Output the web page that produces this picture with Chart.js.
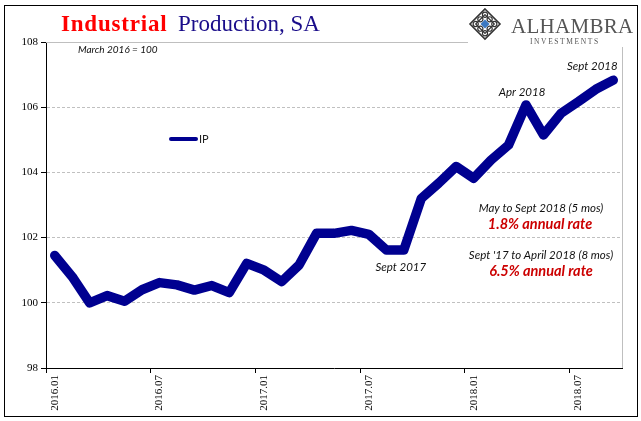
<!DOCTYPE html>
<html>
<head>
<meta charset="utf-8">
<script src="https://cdn.jsdelivr.net/npm/chart.js@4/dist/chart.umd.min.js"></script>
<style>
    html, body { margin: 0; padding: 0; background: #fff; }
    #wrap { position: relative; width: 641px; height: 421px; overflow: hidden; }
    #frame { position: absolute; left: 4px; top: 5px; width: 634px; height: 412px;
             border: 1px solid #000; box-sizing: border-box; pointer-events: none; }
    #c { position: absolute; left: 0; top: 0; }
</style>
</head>
<body>
<div id="wrap">
    <canvas id="c" width="641" height="421"></canvas>
    <div id="frame"></div>
</div>
<script>
// Industrial Production, SA (March 2016 = 100), monthly
const months = [
    '2016.01', '2016.02', '2016.03', '2016.04', '2016.05', '2016.06',
    '2016.07', '2016.08', '2016.09', '2016.10', '2016.11', '2016.12',
    '2017.01', '2017.02', '2017.03', '2017.04', '2017.05', '2017.06',
    '2017.07', '2017.08', '2017.09', '2017.10', '2017.11', '2017.12',
    '2018.01', '2018.02', '2018.03', '2018.04', '2018.05', '2018.06',
    '2018.07', '2018.08', '2018.09'
];
const ipValues = [
    101.45, 100.80, 100.00, 100.22, 100.05, 100.40,
    100.62, 100.55, 100.39, 100.53, 100.31, 101.21,
    101.00, 100.65, 101.16, 102.13, 102.13, 102.22,
    102.10, 101.62, 101.62, 103.20, 103.67, 104.18,
    103.82, 104.38, 104.84, 106.07, 105.15, 105.81,
    106.17, 106.55, 106.83
];
const yTicks = [98, 100, 102, 104, 106, 108];

// point labels: [index, text, dx, dy]
const pointNotes = [
    [32, 'Sept 2018', -21, -14],
    [27, 'Apr 2018', -4, -13],
    [20, 'Sept 2017', -3, 17]
];

const NAVY = '#000090';
const SERIF = '"Liberation Serif", "Times New Roman", serif';
const SANS = 'Lato, "Open Sans", sans-serif';

const extras = {
    id: 'extras',
    beforeDatasetsDraw(chart) {
        const { ctx, chartArea: a } = chart;
        ctx.save();
        ctx.strokeStyle = '#bfbfbf';
        ctx.lineWidth = 1;
        ctx.beginPath();
        ctx.moveTo(a.left, a.top + 0.5);
        ctx.lineTo(a.right, a.top + 0.5);
        ctx.moveTo(a.right + 0.5, a.top);
        ctx.lineTo(a.right + 0.5, a.bottom);
        ctx.stroke();
        ctx.restore();
    },
    afterDraw(chart) {
        const { ctx, scales: { x, y } } = chart;
        ctx.save();

        // title
        ctx.textBaseline = 'alphabetic';
        ctx.textAlign = 'left';
        ctx.font = 'bold 23px ' + SERIF;
        ctx.fillStyle = '#ff0000';
        ctx.letterSpacing = '0.8px';
        ctx.fillText('Industrial', 61, 31);
        ctx.letterSpacing = '0px';
        ctx.font = '23px ' + SERIF;
        ctx.fillStyle = '#1a0d8a';
        ctx.fillText('Production, SA', 178, 31);

        // subtitle
        ctx.font = 'italic 10px ' + SANS;
        ctx.fillStyle = '#111';
        ctx.textBaseline = 'middle';
        ctx.fillText('March 2016 = 100', 78, 50);

        // legend
        ctx.strokeStyle = NAVY;
        ctx.lineWidth = 4;
        ctx.lineCap = 'round';
        ctx.beginPath();
        ctx.moveTo(171, 139);
        ctx.lineTo(196, 139);
        ctx.stroke();
        ctx.font = '11px ' + SANS;
        ctx.fillStyle = '#222';
        ctx.fillText('IP', 199, 139.5);

        // point notes
        ctx.font = 'italic 11.5px ' + SANS;
        ctx.fillStyle = '#111';
        ctx.textAlign = 'center';
        pointNotes.forEach(([i, text, dx, dy]) => {
            const px = x.getPixelForValue(i);
            const py = y.getPixelForValue(ipValues[i]);
            ctx.fillText(text, px + dx, py + dy);
        });

        // rate boxes
        ctx.fillText('May to Sept 2018 (5 mos)', 541, 208);
        ctx.fillText("Sept '17 to April 2018 (8 mos)", 541, 255);
        ctx.font = 'italic bold 14.5px ' + SANS;
        ctx.fillStyle = '#cc0000';
        ctx.fillText('1.8% annual rate', 540, 224);
        ctx.fillText('6.5% annual rate', 541, 271);

        // logo
        ctx.fillStyle = '#fff';
        ctx.fillRect(468, 6, 169, 41);
        drawLogo(ctx, 485, 24, 15);
        ctx.textAlign = 'left';
        ctx.textBaseline = 'alphabetic';
        ctx.fillStyle = '#555';
        ctx.font = '21px ' + SERIF;
        ctx.letterSpacing = '0.3px';
        ctx.fillText('ALHAMBRA', 511, 33);
        ctx.font = '7.5px ' + SERIF;
        ctx.letterSpacing = '1.6px';
        ctx.fillText('INVESTMENTS', 530, 44);
        ctx.letterSpacing = '0px';
        ctx.restore();
    }
};

function drawLogo(ctx, cx, cy, r) {
    ctx.save();
    ctx.translate(cx, cy);
    ctx.strokeStyle = '#333';
    ctx.lineWidth = 1.6;
    const diamond = (s) => {
        ctx.beginPath();
        ctx.moveTo(0, -s); ctx.lineTo(s, 0); ctx.lineTo(0, s); ctx.lineTo(-s, 0);
        ctx.closePath();
    };
    diamond(r); ctx.stroke();
    ctx.lineWidth = 1.2;
    diamond(r * 0.62); ctx.stroke();
    // small knots around the centre
    [[0, -1], [1, 0], [0, 1], [-1, 0], [0.5, -0.5], [0.5, 0.5], [-0.5, 0.5], [-0.5, -0.5]].forEach(([a, b]) => {
        ctx.beginPath();
        ctx.arc(a * r * 0.62, b * r * 0.62, 2.6, 0, Math.PI * 2);
        ctx.stroke();
    });
    ctx.fillStyle = '#3a78c2';
    diamond(4.5); ctx.fill();
    ctx.restore();
}

new Chart(document.getElementById('c'), {
    type: 'line',
    data: {
        labels: months,
        datasets: [{
            label: 'IP',
            data: ipValues,
            borderColor: NAVY,
            borderWidth: 9.5,
            borderJoinStyle: 'round',
            borderCapStyle: 'round',
            pointRadius: 0,
            tension: 0,
            clip: false
        }]
    },
    options: {
        responsive: false,
        animation: false,
        devicePixelRatio: 1,
        layout: { padding: { left: 0, top: 42, right: 19, bottom: 0 } },
        plugins: { legend: { display: false }, tooltip: { enabled: false } },
        scales: {
            x: {
                offset: true,
                afterFit: (s) => { s.height = 53; },
                grid: {
                    offset: true,
                    drawOnChartArea: false,
                    tickLength: 5,
                    tickColor: (c) => c.index % 6 === 0 ? '#000' : 'rgba(0,0,0,0)'
                },
                border: { color: '#000', width: 1 },
                ticks: {
                    autoSkip: false,
                    maxRotation: 90,
                    minRotation: 90,
                    padding: 2,
                    color: '#000',
                    font: { family: SERIF, size: 11 },
                    callback: (v, i) => i % 6 === 0 ? months[i] : ''
                }
            },
            y: {
                min: 98,
                max: 108,
                afterFit: (s) => { s.width = 46; },
                afterBuildTicks: (s) => { s.ticks = yTicks.map(v => ({ value: v })); },
                grid: {
                    color: (c) => (c.tick && (c.tick.value === 98 || c.tick.value === 108)) ? 'rgba(0,0,0,0)' : '#c0c0c0',
                    tickColor: '#000',
                    tickLength: 5,
                    tickBorderDash: [1, 0]
                },
                border: { color: '#000', width: 1, dash: [3, 2] },
                ticks: {
                    color: '#000',
                    padding: 3,
                    font: { family: SERIF, size: 11 }
                }
            }
        }
    },
    plugins: [extras]
});
</script>
</body>
</html>
